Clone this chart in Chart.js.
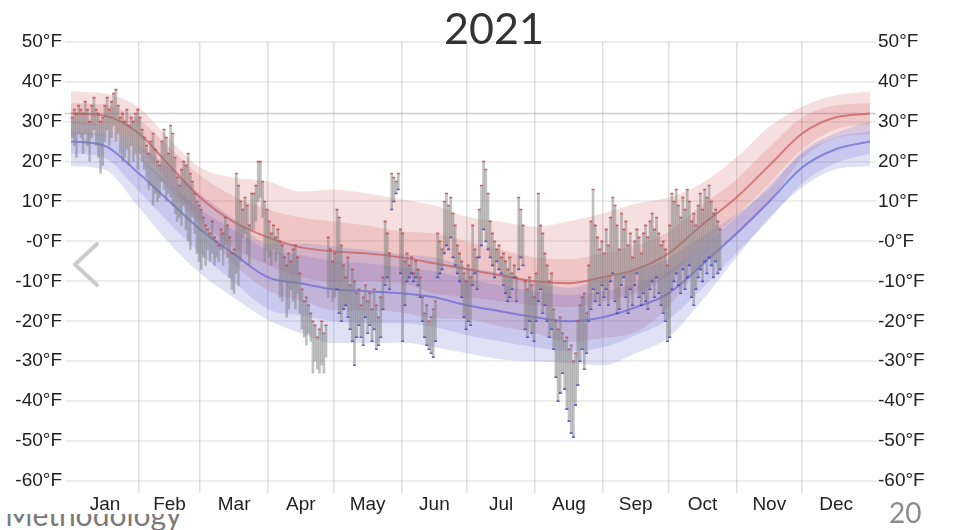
<!DOCTYPE html>
<html>
<head>
<meta charset="utf-8">
<script src="https://cdn.jsdelivr.net/npm/chart.js@4.4.1/dist/chart.umd.min.js"></script>
<style>
  html, body { margin: 0; padding: 0; background: #fff; }
  #wrap { position: relative; width: 956px; height: 530px; overflow: hidden; }
  #chart { position: absolute; left: 0; top: 0; }
  #title { position: absolute; left: 394px; width: 200px; top: 6px; text-align: center;
           font: 43px/43px Lato, "Open Sans", sans-serif; color: #333; }
  #slideFoot { position: absolute; left: 0; top: 514px; width: 240px; height: 16px; overflow: hidden; }
  #slideFoot span { position: absolute; left: 5px; top: -15px; font: 30px/30px Lato, sans-serif; color: #7a7a7a; white-space: nowrap; }
  #pageNo { position: absolute; left: 889px; top: 498px; font: 28px/28px Lato, sans-serif; color: #8c8c8c; }
  #prev { position: absolute; left: 0; top: 0; }
</style>
</head>
<body>
<div id="wrap">
  <div id="slideFoot"><span>Methodology</span></div>
  <canvas id="chart" width="956" height="530"></canvas>
  <svg id="prev" width="956" height="530"><polyline points="97,244 75,264.5 97,285" fill="none" stroke="#cbcbcb" stroke-width="4" stroke-linecap="round" stroke-linejoin="round"/></svg>
  <div id="title">2021</div>
  <div id="pageNo">20</div>
</div>
<script>
// Day-of-year anchors for the climate percentile bands (0 = Jan 1, 365 = Dec 31)
const anchorDays = [0,15,31,45,59,74,90,105,120,135,151,166,181,196,212,227,243,258,273,288,304,319,334,349,365];

// Daily high temperature climatology, °F
const highP90  = [37.5,37,33.5,25.5,18.5,16,15,12.5,13,12,10.5,9,6.2,5,3.7,5,7,9.5,11,14.5,21,28.7,33.7,36.5,37.5];
const highP75  = [34.6,34.3,30.5,23.5,16.5,11.5,8,6,5,4,2.5,2,0,-2,-4,-4.5,-3,-1,2.5,9,15.5,23.5,31,34,34.6];
const highMean = [32,31.5,27,19,11,5,1,-1.5,-2.5,-3,-4,-5.5,-7,-8.5,-10,-10.5,-9,-7,-3,4,11,19,27,31,32];
const highP25  = [29.4,28.7,23.5,14.5,5.5,-1.5,-6,-9,-10,-10,-10.5,-13,-14,-15,-16,-16.5,-15,-13,-8.5,-1,6.5,14.5,23,28,29.4];
const highP10  = [26.8,26.3,20.8,12.8,3.9,-5.5,-12.3,-14.8,-17.2,-17.3,-17.8,-19.3,-19.5,-21.3,-23,-25.2,-24.2,-22.7,-16.3,-6,1.5,9.8,20.6,25.8,26.8];

// Daily low temperature climatology, °F
const lowP90  = [30,28.8,23.8,18.4,11.8,5.8,-0.5,-0.5,-1.2,-2.1,-3.2,-4,-6.4,-7.9,-10.2,-11.6,-9.4,-7.3,-4.2,1.2,6.8,13.2,22.5,27,30];
const lowP75  = [27.5,26.5,21,14.5,8,3,-2,-3.5,-5,-5.5,-6.5,-7.5,-9.5,-11,-12.5,-13.5,-12.5,-10.5,-7.5,-1,6,14,22,26,27.5];
const lowMean = [25,24,17,10,3,-3,-9,-10.5,-12,-12.5,-13,-14,-16,-17.5,-19,-20,-19,-16.5,-13,-6,2,10,18.5,23,25];
const lowP25  = [22,21,12.5,4.5,-3,-10,-17,-18.5,-20,-20.5,-20.5,-21.5,-23.5,-25,-26.5,-27.5,-26.5,-23.5,-19.5,-12,-3,5.5,14.5,19.5,22];
const lowP10  = [18.8,18,8.5,-0.5,-8,-14,-19.6,-23,-25.5,-25.5,-25.3,-26.5,-28,-29.5,-30,-30.5,-31,-28,-24,-15,-4,6,13.5,18,18.8];

// Observed 2021 daily range, °F (day 0 = Jan 1)
const dailyHigh = [
  31,33,32,34,33,32,35,33,30,34,  36,33,32,30,31,34,36,33,35,37,
  38,34,31,32,30,33,29,31,30,32,  33,31,28,26,24,22,25,27,23,20,
  19,25,28,26,22,29,27,21,16,14,  18,20,19,22,17,15,12,10,9,8,
  6,4,3,2,5,1,0,-1,3,2,           6,4,1,-3,-2,17,14,10,8,11,
  9,4,12,12,14,20,20,15,10,8,     5,2,4,1,3,0,-1,-4,-6,-3,
  -5,-2,-1,-4,-8,-12,-15,-14,-16,-18,  -20,-21,-24,-22,-20,-23,-21,1,-2,-5,
  -3,8,6,-1,-6,-9,-4,-11,-7,-10,  -13,-12,-16,-14,-11,-15,-13,-17,-12,-16,
  -19,-14,-9,5,2,-3,17,16,15,17,  3,2,-5,-3,-6,-4,-8,-5,-7,-9,
  -14,-18,-16,-20,-19,-17,-15,2,0,-2,  10,12,9,11,7,4,-1,-3,-5,-8,
  -10,-6,-9,4,-2,-4,8,14,20,18,   12,5,2,0,-2,-1,-4,-3,-5,-7,
  -4,-8,-6,-9,11,8,4,-10,-12,-9,  -11,-14,-8,12,4,2,-3,-6,-10,-8,
  -17,-20,-22,-19,-23,-25,-24,-27,-26,-30,  -28,-20,-16,-14,-13,-18,-6,5,13,4,
  1,-2,0,-3,3,-1,6,11,9,4,        -2,7,3,5,-1,2,-4,0,3,1,
  -3,2,4,1,5,7,3,6,2,-1,          0,-2,-6,4,12,10,13,9,6,11,
  8,13,10,5,7,4,9,12,8,13,        11,14,10,7,8,5,3
];
const dailyLow = [
  26,24,21,27,26,22,27,24,20,26,  28,24,21,17,19,25,28,24,26,29,
  25,27,22,20,21,23,19,24,20,22,  18,22,20,18,16,13,14,9,12,10,
  11,15,13,10,12,11,9,7,5,6,      4,9,3,0,-2,6,2,-3,-5,-7,
  -4,-6,-2,-5,-3,-6,-4,-5,-2,-6,  -1,-4,-9,-12,-13,-8,-11,-5,1,2,
  -3,-6,3,3,5,10,11,6,-5,-2,      -4,-6,-2,-5,-3,-14,-15,-10,-19,-17,
  -12,-15,-17,-13,-18,-22,-24,-26,-23,-25,  -33,-30,-32,-33,-31,-33,-29,-14,-12,-15,
  -14,-12,-18,-20,-17,-16,-19,-22,-25,-31,  -24,-21,-24,-26,-19,-23,-21,-25,-22,-27,
  -26,-24,-17,-11,-9,-12,8,10,12,13,  -8,-25,-16,-10,-9,-8,-10,-9,-11,-14,
  -20,-24,-26,-27,-28,-29,-25,-9,-8,-7,  -3,-1,-2,1,-4,-6,-8,-10,-14,-19,
  -22,-20,-21,-11,-8,-12,-4,-1,3,0,  -2,-4,-6,-9,-5,-7,-8,-11,-13,-15,
  -14,-12,-9,-15,-7,-4,-6,-22,-24,-20,  -23,-25,-20,-15,-12,-18,-16,-20,-24,-22,
  -27,-34,-40,-38,-33,-37,-42,-45,-48,-49,  -41,-36,-30,-27,-32,-28,-20,-17,-12,-15,
  -13,-16,-11,-14,-12,-16,-10,-8,-15,-18,  -17,-11,-9,-14,-18,-12,-16,-11,-8,-14,
  -16,-13,-15,-17,-12,-10,-14,-9,-13,-16,  -18,-20,-25,-24,-12,-10,-8,-11,-13,-7,
  -12,-9,-6,-14,-16,-12,-9,-7,-10,-5,  -8,-4,-6,-9,-5,-8,-7
];
const firstLowTickDay = 121;   // blue low ticks are reported from early May on
const freezingPoint = 32;

// Axis definitions
const monthStarts  = [31,59,90,120,151,181,212,243,273,304,334];
const monthCenters = [15.5,45,74.5,105,135.5,166,196.5,227.5,258,288.5,319,349.5];
const monthLabels  = ['Jan','Feb','Mar','Apr','May','Jun','Jul','Aug','Sep','Oct','Nov','Dec'];
const tempTicks      = [-60,-50,-40,-30,-20,-10,0,10,20,30,40,50];
const tempTickLabels = ['-60°F','-50°F','-40°F','-30°F','-20°F','-10°F','-0°F','10°F','20°F','30°F','40°F','50°F'];

const curve = arr => anchorDays.map((d, i) => ({ x: d, y: arr[i] }));
const RED_BAND = 'rgba(204,80,80,0.18)';
const BLUE_BAND = 'rgba(90,90,205,0.18)';

function band(upper, lower, color, order) {
  return [
    { type: 'line', data: curve(upper), fill: '+1', backgroundColor: color, borderWidth: 0,
      pointRadius: 0, cubicInterpolationMode: 'monotone', order },
    { type: 'line', data: curve(lower), fill: false, borderWidth: 0,
      pointRadius: 0, cubicInterpolationMode: 'monotone', order }
  ];
}

const freezingLine = {
  id: 'freezingLine',
  beforeDatasetsDraw(chart) {
    const { ctx, chartArea: a, scales } = chart;
    const py = scales.y.getPixelForValue(freezingPoint);
    ctx.save();
    ctx.strokeStyle = 'rgba(0,0,0,0.2)';
    ctx.lineWidth = 1.5;
    ctx.beginPath();
    ctx.moveTo(a.left, py);
    ctx.lineTo(a.right, py);
    ctx.stroke();
    ctx.restore();
  }
};

const labelFont = { family: '"Liberation Sans", Arial, Helvetica, sans-serif', size: 19 };
const X_MIN = -2.75, X_MAX = 367.75, Y_MIN = -63, Y_MAX = 50;

new Chart(document.getElementById('chart'), {
  type: 'line',
  data: {
    datasets: [
      ...band(highP90, highP10, RED_BAND, 10),
      ...band(highP75, highP25, RED_BAND, 9),
      ...band(lowP90, lowP10, BLUE_BAND, 8),
      ...band(lowP75, lowP25, BLUE_BAND, 7),
      { type: 'line', data: curve(highMean), borderColor: 'rgba(200,80,80,0.65)', borderWidth: 2,
        pointRadius: 0, fill: false, cubicInterpolationMode: 'monotone', order: 4 },
      { type: 'line', data: curve(lowMean), borderColor: 'rgba(95,95,210,0.65)', borderWidth: 2,
        pointRadius: 0, fill: false, cubicInterpolationMode: 'monotone', order: 4 },
      { type: 'bar', data: dailyHigh.map((h, i) => ({ x: i + 0.5, y: [dailyLow[i], h] })),
        backgroundColor: 'rgba(125,125,125,0.48)', borderWidth: 0, barThickness: 2, grouped: false, order: 3 },
      { type: 'line', data: dailyHigh.map((h, i) => ({ x: i + 0.5, y: h })), showLine: false,
        pointStyle: 'line', pointRadius: 1.5, pointBorderWidth: 1.6, pointBorderColor: 'rgba(225,60,60,0.8)', order: 2 },
      { type: 'line', data: dailyLow.map((l, i) => ({ x: i + 0.5, y: l })).filter(p => p.x > firstLowTickDay),
        showLine: false, pointStyle: 'line', pointRadius: 1.5, pointBorderWidth: 1.6,
        pointBorderColor: 'rgba(60,60,225,0.8)', order: 1 }
    ]
  },
  options: {
    responsive: false,
    animation: false,
    devicePixelRatio: 1,
    layout: { padding: { top: 41.7, bottom: 0, left: 0, right: 0 } },
    plugins: { legend: { display: false }, tooltip: { enabled: false } },
    scales: {
      x: {
        type: 'linear', position: 'bottom', min: X_MIN, max: X_MAX, offset: false,
        grid: { display: false, offset: false, drawTicks: false }, border: { display: false },
        afterBuildTicks: s => { s.ticks = monthCenters.map(v => ({ value: v })); },
        ticks: { autoSkip: false, maxRotation: 0, padding: 0, color: '#222', font: labelFont,
                 callback: (v, i) => monthLabels[i] },
        afterFit: s => { s.height = 37; }
      },
      xg: {
        type: 'linear', position: 'top', min: X_MIN, max: X_MAX, offset: false,
        grid: { color: 'rgba(0,0,0,0.12)', lineWidth: 1.5, drawTicks: false, offset: false },
        border: { display: false }, ticks: { display: false },
        afterBuildTicks: s => { s.ticks = monthStarts.map(v => ({ value: v })); },
        afterFit: s => { s.height = 0; }
      },
      y: {
        position: 'left', min: Y_MIN, max: Y_MAX,
        grid: { color: 'rgba(0,0,0,0.07)', lineWidth: 2, drawTicks: false },
        border: { display: false },
        afterBuildTicks: s => { s.ticks = tempTicks.map(v => ({ value: v })); },
        ticks: { padding: 3, color: '#222', font: labelFont, callback: (v, i) => tempTickLabels[i] },
        afterFit: s => { s.width = 65; }
      },
      y2: {
        position: 'right', min: Y_MIN, max: Y_MAX,
        grid: { display: false, drawTicks: false }, border: { display: false },
        afterBuildTicks: s => { s.ticks = tempTicks.map(v => ({ value: v })); },
        ticks: { padding: 2, color: '#222', font: labelFont, callback: (v, i) => tempTickLabels[i] },
        afterFit: s => { s.width = 80; }
      }
    }
  },
  plugins: [freezingLine]
});
</script>
</body>
</html>
